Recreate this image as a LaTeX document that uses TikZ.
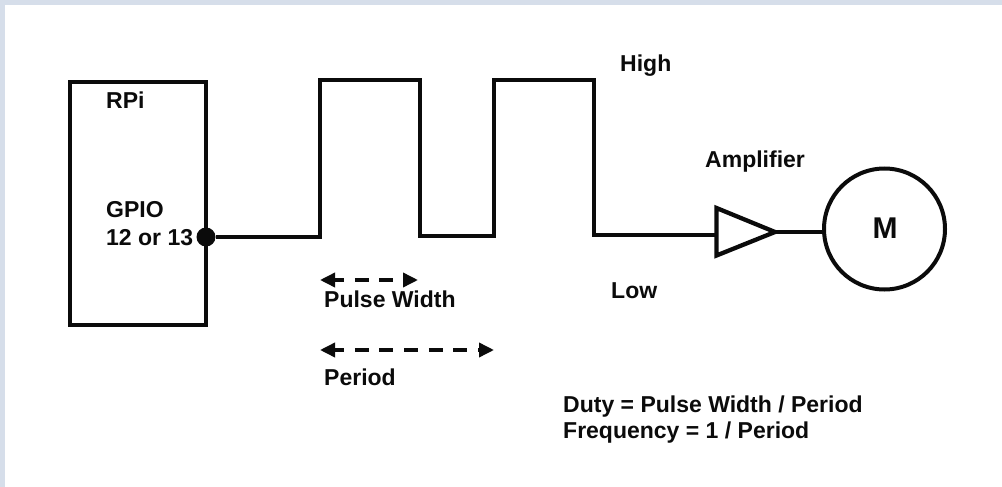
\documentclass[tikz,border=0pt]{standalone}
\usepackage{fontspec}
\setmainfont{Liberation Sans}
\usetikzlibrary{arrows.meta,positioning}
\definecolor{ink}{HTML}{0B0B0B}
\definecolor{frame1}{HTML}{D6DEEA}

\begin{document}
\begin{tikzpicture}[x=1pt,y=-1pt,
    wire/.style={ink,line width=4.3pt},
    label/.style={anchor=base west,inner sep=0pt,text=ink,font=\fontsize{23}{27}\selectfont\bfseries},
    span/.style={ink,line width=3.5pt,
                 {Triangle[length=15pt,width=14pt]}-{Triangle[length=15pt,width=14pt]}}]
  \useasboundingbox (0,0) rectangle (1002,487);
  \fill[frame1] (0,0) rectangle (1002,487);
  \fill[white] (5,5) rectangle (1002,487);
  % the board
  \node[draw=ink,line width=4.3pt,minimum width=136pt,minimum height=243pt,inner sep=0pt,anchor=north west] (rpi) at (67.85,79.85) {};
  \node[circle,fill=ink,inner sep=0pt,minimum size=19pt] (gpio) at (206,237) {};
  \node[label] (rpilabel) at (106,108) {RPi};
  \node[label] (gpiolabel) at (106,217) {GPIO};
  \node[label] (pinlabel) at (106,245) {12 or 13};
  % amplifier and motor
  \node[draw=ink,line width=4pt,circle,minimum size=121pt,inner sep=0pt] (motor) at (884.5,229) {};
  \node[label,anchor=base,font=\fontsize{30}{34}\selectfont\bfseries] (motorlabel) at (885,238) {M};
  \coordinate (ampin) at (716.5,235);
  \coordinate (amptip) at (775,232);
  \draw[ink,line width=4.3pt,line join=miter] (716.5,208) -- (amptip) -- (716.5,255.5) -- cycle;
  \draw[ink,line width=3.5pt] (amptip) -- (amptip -| motor.west);
  % the pulse train
  \draw[wire,line join=miter] (gpio.east) -- (320,237) -- (320,80) -- (420,80) -- (420,236)
      -- (494,236) -- (494,80) -- (594,80) -- (594,235) -- (ampin);
  \node[label] (high) at (620,71) {High};
  \node[label] (low) at (611,298) {Low};
  \node[label] (amplabel) at (705,167) {Amplifier};
  % widths
  \coordinate (pwstart) at (320,280);
  \coordinate (pwend) at (418,280);
  \coordinate (perstart) at (320,350);
  \coordinate (perend) at (494,350);
  \draw[span,dash pattern=on 14pt off 10.67pt,dash phase=4pt] (pwstart) -- (pwend);
  \draw[span,dash pattern=on 14pt off 10.67pt,dash phase=4pt] (perstart) -- (perend);
  \node[label] (pwlabel) at (324,307) {Pulse Width};
  \node[label] (perlabel) at (324,385) {Period};
  \node[label] (duty) at (563,412) {Duty = Pulse Width / Period};
  \node[label] (freq) at (563,438) {Frequency = 1 / Period};
\end{tikzpicture}
\end{document}
